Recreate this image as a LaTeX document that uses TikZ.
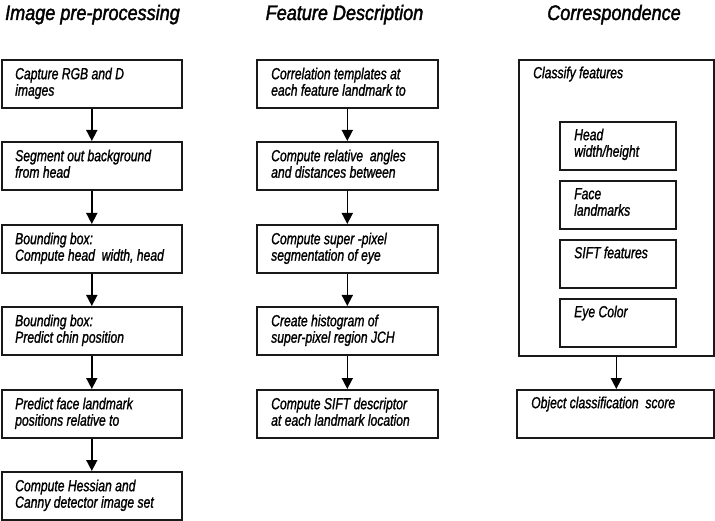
\documentclass[tikz,border=0pt]{standalone}
\usepackage{fontspec}
\usetikzlibrary{arrows.meta}
\newfontfamily\boxfont[FakeStretch=0.76,FakeBold=1.2]{Liberation Sans}
\newfontfamily\titlefont[FakeStretch=0.86,FakeBold=1.8]{Liberation Sans}
\tikzset{
  box/.style={draw=black!90, line width=1.6pt, rectangle, inner sep=0pt, anchor=north west},
  txt/.style={anchor=north west, inner sep=0pt, align=left, font=\boxfont\itshape\fontsize{16}{16.5}\selectfont},
  ttl/.style={anchor=base, inner sep=0pt, font=\titlefont\itshape\fontsize{21}{24}\selectfont},
  arr/.style={line width=1.6pt, -{Triangle[width=11pt,length=11pt]}}
}
\newcommand\fl{\rule{0pt}{14pt}}
\begin{document}
\begin{tikzpicture}[x=1pt,y=-1pt]
\useasboundingbox (0,0) rectangle (715,521);
% titles
\node[ttl] (t1) at (92.5,20) {Image pre-processing};
\node[ttl] (t2) at (344.5,20) {Feature Description};
\node[ttl] (t3) at (614,20) {Correspondence};
% left column
\node[box, minimum width=180pt, minimum height=48pt] (a1) at (1,59) {};
\node[box, minimum width=180pt, minimum height=48pt] (a2) at (1,141) {};
\node[box, minimum width=180pt, minimum height=48pt] (a3) at (1,224) {};
\node[box, minimum width=180pt, minimum height=48pt] (a4) at (1,306) {};
\node[box, minimum width=180pt, minimum height=48pt] (a5) at (1,389) {};
\node[box, minimum width=180pt, minimum height=48pt] (a6) at (1,471) {};
\node[txt] (a1t) at ([xshift=14pt,yshift=-6pt]a1.north west) {\fl Capture RGB and D\\images};
\node[txt] (a2t) at ([xshift=14pt,yshift=-6pt]a2.north west) {\fl Segment out background\\from head};
\node[txt] (a3t) at ([xshift=14pt,yshift=-6pt]a3.north west) {\fl Bounding box:\\Compute head\ \ width, head};
\node[txt] (a4t) at ([xshift=14pt,yshift=-6pt]a4.north west) {\fl Bounding box:\\Predict chin position};
\node[txt] (a5t) at ([xshift=14pt,yshift=-6pt]a5.north west) {\fl Predict face landmark\\positions relative to};
\node[txt] (a6t) at ([xshift=14pt,yshift=-6pt]a6.north west) {\fl Compute Hessian and\\Canny detector image set};
\draw[arr] (a1.south) -- (a2.north);
\draw[arr] (a2.south) -- (a3.north);
\draw[arr] (a3.south) -- (a4.north);
\draw[arr] (a4.south) -- (a5.north);
\draw[arr] (a5.south) -- (a6.north);
% middle column
\node[box, minimum width=181pt, minimum height=48pt] (b1) at (256,59) {};
\node[box, minimum width=181pt, minimum height=48pt] (b2) at (256,141) {};
\node[box, minimum width=181pt, minimum height=48pt] (b3) at (256,224) {};
\node[box, minimum width=181pt, minimum height=48pt] (b4) at (256,306) {};
\node[box, minimum width=181pt, minimum height=48pt] (b5) at (256,389) {};
\node[txt] (b1t) at ([xshift=15pt,yshift=-6pt]b1.north west) {\fl Correlation templates at\\each feature landmark to};
\node[txt] (b2t) at ([xshift=15pt,yshift=-6pt]b2.north west) {\fl Compute relative\ \ angles\\and distances between};
\node[txt] (b3t) at ([xshift=15pt,yshift=-6pt]b3.north west) {\fl Compute super -pixel\\segmentation of eye};
\node[txt] (b4t) at ([xshift=15pt,yshift=-6pt]b4.north west) {\fl Create histogram of\\super-pixel region JCH};
\node[txt] (b5t) at ([xshift=15pt,yshift=-6pt]b5.north west) {\fl Compute SIFT descriptor\\at each landmark location};
\draw[arr] (b1.south) -- (b2.north);
\draw[arr] (b2.south) -- (b3.north);
\draw[arr] (b3.south) -- (b4.north);
\draw[arr] (b4.south) -- (b5.north);
% right column
\node[box, minimum width=195pt, minimum height=296pt] (c0) at (518,59) {};
\node[txt] (c0t) at ([xshift=15pt,yshift=-5pt]c0.north west) {\fl Classify features};
\node[box, minimum width=116pt, minimum height=48.5pt] (c1) at (559,121) {};
\node[box, minimum width=116pt, minimum height=48.5pt] (c2) at (559,180) {};
\node[box, minimum width=116pt, minimum height=48.5pt] (c3) at (559,239) {};
\node[box, minimum width=116pt, minimum height=48.5pt] (c4) at (559,298) {};
\node[txt] (c1t) at ([xshift=15pt,yshift=-5pt]c1.north west) {\fl Head\\width/height};
\node[txt] (c2t) at ([xshift=15pt,yshift=-5pt]c2.north west) {\fl Face\\landmarks};
\node[txt] (c3t) at ([xshift=15pt,yshift=-5pt]c3.north west) {\fl SIFT features};
\node[txt] (c4t) at ([xshift=15pt,yshift=-5pt]c4.north west) {\fl Eye Color};
\node[box, minimum width=197pt, minimum height=48pt] (c5) at (516,389) {};
\node[txt] (c5t) at ([xshift=15pt,yshift=-5pt]c5.north west) {\fl Object classification\ \ score};
\draw[arr] (c0.south) -- (c0.south |- c5.north);
\end{tikzpicture}
\end{document}
